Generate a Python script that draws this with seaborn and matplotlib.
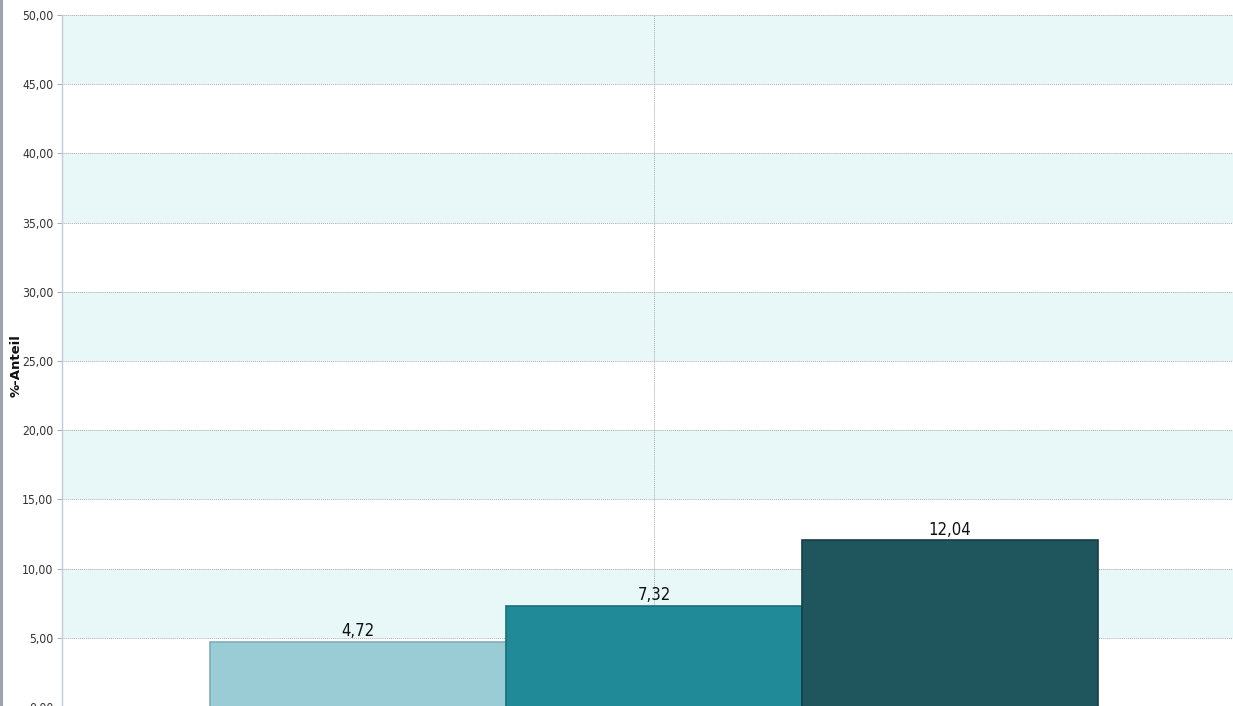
import matplotlib
matplotlib.use("Agg")
import matplotlib.pyplot as plt
from matplotlib.lines import Line2D
import pandas as pd
import seaborn as sns

# values
CATEGORIES = ["Gesamt", "Gesamt", "Gesamt"]
GROUPS = ["Gruppe 1", "Gruppe 2", "Gruppe 3"]
VALUES = [4.72, 7.32, 12.04]
Y_TICKS = [0, 5, 10, 15, 20, 25, 30, 35, 40, 45, 50]

COLORS = ["#9ACCD6", "#218A98", "#1F565E"]
EDGES = ["#7FAEB7", "#19707B", "#163F45"]
BAND = "#E8F7F8"
GRID = "#ABABAB"

sns.set_theme(style="white")
plt.rcParams["font.family"] = ["DejaVu Sans"]
plt.rcParams["font.stretch"] = "condensed"

W, H = 1233, 706
fig = plt.figure(figsize=(W / 100, H / 100), dpi=100)
# plot area runs past the right and bottom edge, as in the cropped original
ax = fig.add_axes([62 / W, -1 / H, 1184 / W, 692 / H])

df = pd.DataFrame({"kat": CATEGORIES, "gruppe": GROUPS, "wert": VALUES})
sns.barplot(data=df, x="kat", y="wert", hue="gruppe", palette=COLORS,
            saturation=1, width=0.75, dodge=True, legend=False, ax=ax,
            zorder=3)

for cont, ec in zip(ax.containers, EDGES):
    for bar in cont:
        bar.set_edgecolor(ec)
        bar.set_linewidth(1.2)
    ax.bar_label(cont, labels=[f"{b.get_height():.2f}".replace(".", ",") for b in cont],
                 padding=1, fontsize=12, color="#111111")

# alternating background bands
for y0 in Y_TICKS[1:-1:2]:
    ax.axhspan(y0, y0 + 5, color=BAND, lw=0, zorder=0.1)

ax.set_xlim(-0.5, 0.5)
ax.set_ylim(0, 50)
ax.set_yticks(Y_TICKS)
ax.set_yticklabels([f"{v:.2f}".replace(".", ",") for v in Y_TICKS])
ax.set_axisbelow(True)
ax.grid(True, axis="both", linestyle=(0, (1, 1)), color=GRID, lw=0.7)

ax.tick_params(axis="y", left=True, length=3.6, width=0.7, color=GRID,
               pad=2.5, labelsize=8.7, labelcolor="#333333")
ax.tick_params(axis="x", length=0, labelbottom=False)

for s in ["top", "right", "bottom"]:
    ax.spines[s].set_visible(False)
ax.spines["left"].set_color("#C3CBD3")
ax.spines["left"].set_linewidth(1.0)

ax.set_xlabel("")
ax.set_ylabel("%-Anteil", fontweight="bold", fontsize=9.5, color="#111111",
              fontstretch="normal")
ax.yaxis.set_label_coords((23 - 62) / 1184, 0.494)

# frame edge on the far left
fig.add_artist(Line2D([1.2 / W, 1.2 / W], [0, 1], color="#9EA3A8", lw=2.2,
                      transform=fig.transFigure))

fig.savefig("out.png", dpi=100)
